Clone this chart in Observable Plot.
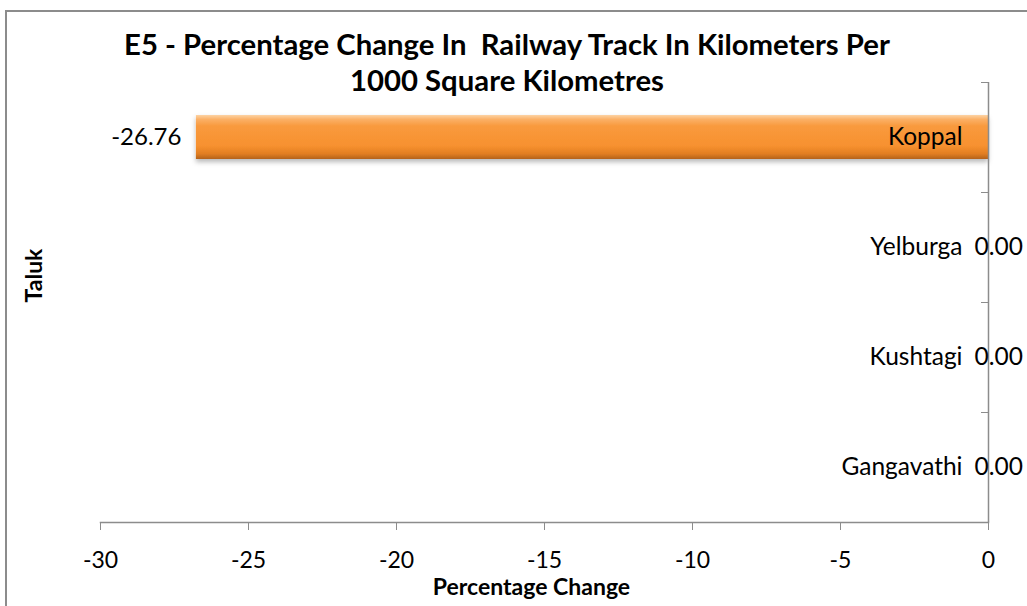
<!DOCTYPE html>
<html><head><meta charset="utf-8">
<script src="https://cdn.jsdelivr.net/npm/d3@7"></script>
<script src="https://cdn.jsdelivr.net/npm/@observablehq/plot@0.6"></script>
<style>
body{margin:0;background:#fff;}
#wrap{position:relative;width:1027px;height:606px;overflow:hidden;font-family:Lato,"Open Sans",sans-serif;}
#border{position:absolute;left:5px;top:10px;width:1100px;height:700px;border-top:2px solid #8c8c8c;border-left:2px solid #8c8c8c;}
#chart{position:absolute;left:0;top:0;}
#title{position:absolute;left:0;width:1014px;top:26px;text-align:center;font-weight:bold;font-size:29.3px;line-height:36px;white-space:pre;color:#000;}
</style></head><body>
<div id="wrap"><div id="border"></div><div id="chart"></div><div id="title">E5 - Percentage Change In  Railway Track In Kilometers Per
1000 Square Kilometres</div></div>
<script>
const taluks = ["Koppal", "Yelburga", "Kushtagi", "Gangavathi"];
const changes = [-26.76, 0.00, 0.00, 0.00];
const xTicks = [-30, -25, -20, -15, -10, -5, 0];
const xLabel = "Percentage Change";
const yLabel = "Taluk";

const data = taluks.map((t, i) => ({taluk: t, change: changes[i]}));
const fmt = v => v.toFixed(2);
const axisGray = "#8c8c8c";

const chart = Plot.plot({
  width: 1027,
  height: 606,
  marginLeft: 100,
  marginRight: 39,
  marginTop: 82,
  marginBottom: 84,
  style: {fontFamily: "Lato, 'Open Sans', sans-serif", color: "#000", background: "transparent", overflow: "visible"},
  x: {domain: [-30, 0]},
  y: {domain: taluks, padding: 0},
  marks: [
    Plot.barX(data, {x: "change", y: "taluk", fill: "url(#barGrad)", insetTop: 33, insetBottom: 33}),
    Plot.frame({anchor: "bottom", stroke: axisGray, strokeWidth: 1.5}),
    Plot.ruleX([0], {stroke: axisGray, strokeWidth: 1.5}),
    Plot.axisX({ticks: xTicks, tickSize: 8, tickPadding: 21, stroke: axisGray, fill: "#000", fontSize: 23, label: null, tickFormat: d => String(d)}),
    Plot.axisY({anchor: "right", tickSize: -8, dy: -55, stroke: axisGray, fill: "none", label: null}),
    Plot.text(data.filter(d => d.change < 0), {x: "change", y: "taluk", text: d => fmt(d.change), textAnchor: "end", dx: -15, fontSize: 24}),
    Plot.text(data, {x: 0, y: "taluk", text: "taluk", textAnchor: "end", dx: -26, fontSize: 24.5}),
    Plot.text(data.filter(d => d.change === 0), {x: 0, y: "taluk", text: d => fmt(d.change), textAnchor: "start", dx: -14, fontSize: 24.5}),
    Plot.text([xLabel], {frameAnchor: "bottom", dy: 72, dx: -13, fontWeight: "bold", fontSize: 23}),
    Plot.text([yLabel], {frameAnchor: "left", dx: -66, rotate: -90, fontWeight: "bold", fontSize: 23})
  ]
});

const svg = d3.select(chart);
const defs = svg.insert("defs", ":first-child");
const grad = defs.append("linearGradient").attr("id", "barGrad").attr("x1", 0).attr("y1", 0).attr("x2", 0).attr("y2", 1);
[["0%", "#fdd3a4"], ["10%", "#fbb066"], ["25%", "#f99a3e"], ["70%", "#f7912f"], ["88%", "#e27e22"], ["100%", "#b4621a"]]
  .forEach(([o, c]) => grad.append("stop").attr("offset", o).attr("stop-color", c));
const filt = defs.append("filter").attr("id", "shadow").attr("x", "-5%").attr("y", "-30%").attr("width", "110%").attr("height", "180%");
filt.append("feDropShadow").attr("dx", 0).attr("dy", 3).attr("stdDeviation", 2.5).attr("flood-color", "#000").attr("flood-opacity", 0.28);
svg.selectAll("g[aria-label='bar'] rect").attr("filter", "url(#shadow)");

document.getElementById("chart").appendChild(chart);
</script>
</body></html>
